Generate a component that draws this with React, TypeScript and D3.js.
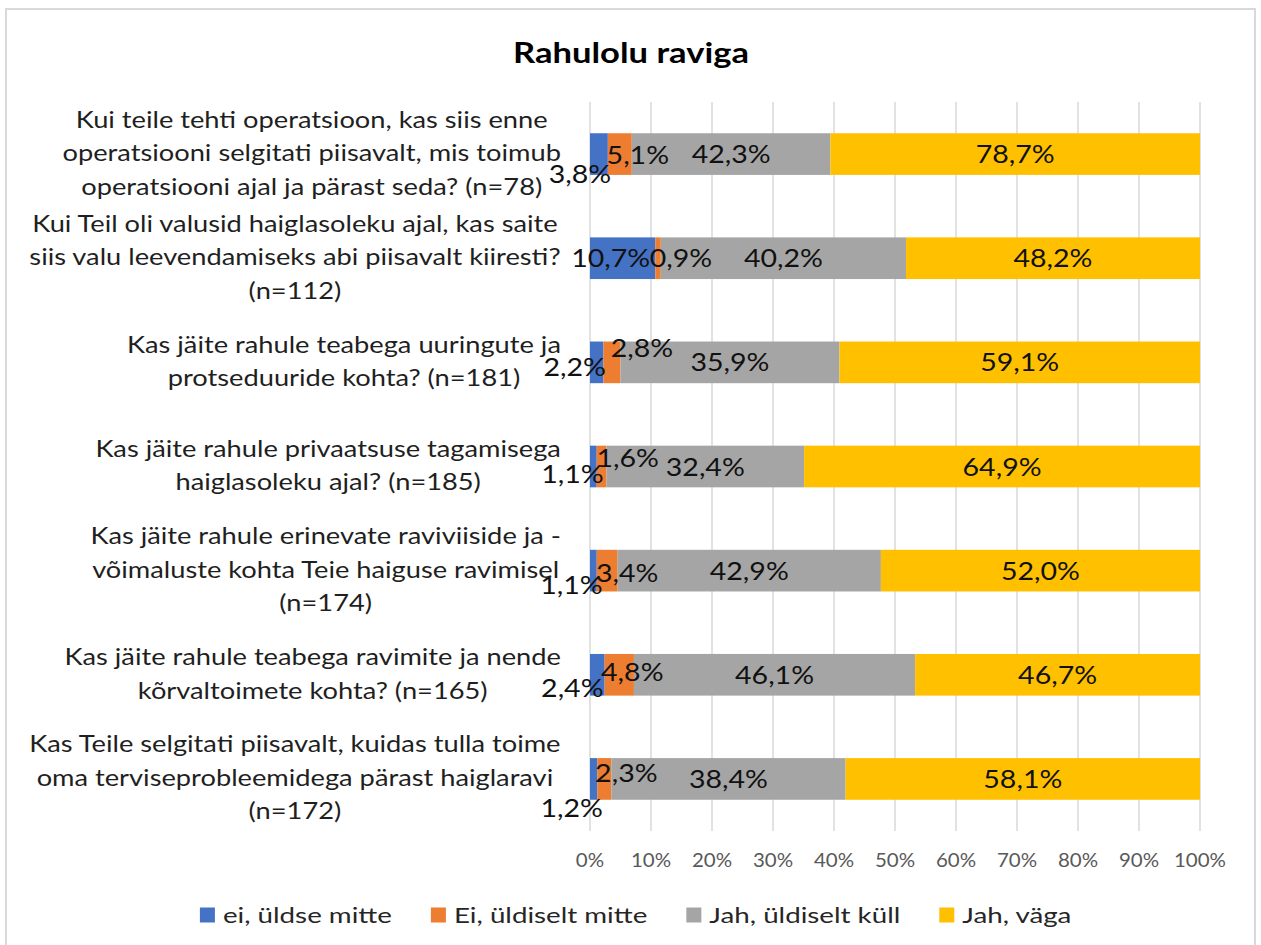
import React from 'react';
import * as d3 from 'd3';

// ---------------- data ----------------
const title = 'Rahulolu raviga';

const categoryLines: string[][] = [
  ['Kui teile tehti operatsioon, kas siis enne', 'operatsiooni selgitati piisavalt, mis toimub', 'operatsiooni ajal ja pärast seda? (n=78)'],
  ['Kui Teil oli valusid haiglasoleku ajal, kas saite', 'siis valu leevendamiseks abi piisavalt kiiresti?', '(n=112)'],
  ['Kas jäite rahule teabega uuringute ja', 'protseduuride kohta? (n=181)'],
  ['Kas jäite rahule privaatsuse tagamisega', 'haiglasoleku ajal? (n=185)'],
  ['Kas jäite rahule erinevate raviviiside ja -', 'võimaluste kohta Teie haiguse ravimisel', '(n=174)'],
  ['Kas jäite rahule teabega ravimite ja nende', 'kõrvaltoimete kohta? (n=165)'],
  ['Kas Teile selgitati piisavalt, kuidas tulla toime', 'oma terviseprobleemidega pärast haiglaravi', '(n=172)'],
];

const seriesNames = ['ei, üldse mitte', 'Ei, üldiselt mitte', 'Jah, üldiselt küll', 'Jah, väga'];
const seriesColors = ['#4472C4', '#ED7D31', '#A5A5A5', '#FFC000'];

const eiUldseMitte = [3.8, 10.7, 2.2, 1.1, 1.1, 2.4, 1.2];
const eiUldiseltMitte = [5.1, 0.9, 2.8, 1.6, 3.4, 4.8, 2.3];
const jahUldiseltKull = [42.3, 40.2, 35.9, 32.4, 42.9, 46.1, 38.4];
const jahVaga = [78.7, 48.2, 59.1, 64.9, 52.0, 46.7, 58.1];

const tickValues = [0, 0.1, 0.2, 0.3, 0.4, 0.5, 0.6, 0.7, 0.8, 0.9, 1];

// label nudges (layout only, Excel collision avoidance) [dx, dy] per category for series 0 and 1
const labelNudge: [number, number][][] = [
  [[-19, 20], [18, 1]],
  [[-12, 0], [23, 0]],
  [[-22, 5], [30, -14]],
  [[-21, 7], [26, -9]],
  [[-22, 14], [20, 2]],
  [[-25, 13], [13, -3]],
  [[-22, 29], [22, -6]],
];

// ---------------- layout ----------------
const W = 1261;
const H = 945;
const FONT = 'Lato';
const CAT_SIZE = 22.3;
const DATA_SIZE = 25;
const TICK_SIZE = 18.6;
const LEG_SIZE = 21;
const TITLE_SIZE = 29;

let ctx: CanvasRenderingContext2D | null = null;
function measure(text: string, font: string): number {
  if (!ctx) ctx = document.createElement('canvas').getContext('2d');
  if (!ctx) return text.length * 10;
  ctx.font = font;
  return ctx.measureText(text).width;
}

function clampS(s: number) {
  return Math.max(0.85, Math.min(1.4, s));
}

export default function App() {
  const rows = categoryLines.map((lines, i) => ({
    key: String(i),
    lines,
    values: [eiUldseMitte[i], eiUldiseltMitte[i], jahUldiseltKull[i], jahVaga[i]],
  }));

  const stack = d3
    .stack<any>()
    .keys(['0', '1', '2', '3'])
    .value((d: any, k: string) => d.values[+k])
    .offset(d3.stackOffsetExpand);
  const stacked = stack(rows);

  const x = d3.scaleLinear().domain([0, 1]).range([590, 1200]);
  const y = d3
    .scaleBand<string>()
    .domain(rows.map((r) => r.key))
    .range([102, 831])
    .paddingInner(0.6)
    .paddingOuter(0.3);

  // horizontal stretch calibration (reference text is wider than Lato)
  const sxCat = clampS(472 / measure(categoryLines[0][0], `${CAT_SIZE}px ${FONT}`));
  const sxData = clampS(79 / measure('42,3%', `${DATA_SIZE}px ${FONT}`));
  const sxTick = clampS(52 / measure('100%', `${TICK_SIZE}px ${FONT}`));
  const sxLeg = clampS(169 / measure(seriesNames[0], `${LEG_SIZE}px ${FONT}`));
  const sxTitle = clampS(236 / measure(title, `bold ${TITLE_SIZE}px ${FONT}`));

  const fmt = (v: number) => v.toFixed(1).replace('.', ',') + '%';
  const tickFmt = (v: number) => d3.format('.0%')(v);

  const lineH = 33.5;
  const catRight = 561;

  // legend layout
  const sq = 15;
  const sqGap = 8;
  const itemGap = 39;
  const legWidths = seriesNames.map((n) => measure(n, `${LEG_SIZE}px ${FONT}`) * sxLeg);
  const legTotal = legWidths.reduce((a, w) => a + sq + sqGap + w, 0) + itemGap * (seriesNames.length - 1);
  let legX = 636 - legTotal / 2;
  const legItems = seriesNames.map((n, i) => {
    const item = { name: n, x: legX, color: seriesColors[i] };
    legX += sq + sqGap + legWidths[i] + itemGap;
    return item;
  });
  const legY = 915;

  return (
    <svg
      width={W}
      height={H}
      style={{ position: 'absolute', left: 0, top: 0, background: '#fff' }}
      fontFamily={FONT}
    >
      <rect x={0} y={0} width={W} height={H} fill="#fff" />
      <rect x={6} y={9} width={1249} height={H} fill="#fff" stroke="#d9d9d9" strokeWidth={2} />

      {/* title */}
      <text
        transform={`translate(631,63) scale(${sxTitle},1)`}
        textAnchor="middle"
        fontSize={TITLE_SIZE}
        fontWeight="bold"
        fill="#000"
      >
        {title}
      </text>

      {/* gridlines */}
      {tickValues.map((t) => (
        <line key={t} x1={x(t)} x2={x(t)} y1={102} y2={831} stroke="#d9d9d9" strokeWidth={1.5} />
      ))}

      {/* tick labels */}
      {tickValues.map((t) => (
        <text
          key={'t' + t}
          transform={`translate(${x(t)},867) scale(${sxTick},1)`}
          textAnchor="middle"
          fontSize={TICK_SIZE}
          fill="#595959"
        >
          {tickFmt(t)}
        </text>
      ))}

      {/* bars */}
      {stacked.map((s, si) => (
        <g key={'s' + si} fill={seriesColors[si]}>
          {s.map((d: any, ci: number) => (
            <rect
              key={ci}
              x={x(d[0])}
              y={y(String(ci))}
              width={Math.max(0, x(d[1]) - x(d[0]))}
              height={y.bandwidth()}
            />
          ))}
        </g>
      ))}

      {/* data labels */}
      {stacked.map((s, si) =>
        s.map((d: any, ci: number) => {
          const nudge = si < 2 ? labelNudge[ci][si] : [0, 0];
          const cx = (x(d[0]) + x(d[1])) / 2 + nudge[0];
          const cy = (y(String(ci)) as number) + y.bandwidth() / 2 + nudge[1];
          return (
            <text
              key={`l${si}-${ci}`}
              transform={`translate(${cx},${cy + 9}) scale(${sxData},1)`}
              textAnchor="middle"
              fontSize={DATA_SIZE}
              fill="#111"
            >
              {fmt(rows[ci].values[si])}
            </text>
          );
        })
      )}

      {/* category labels */}
      {rows.map((r, ci) => {
        const cy = (y(r.key) as number) + y.bandwidth() / 2;
        const maxW = Math.max(...r.lines.map((l) => measure(l, `${CAT_SIZE}px ${FONT}`) * sxCat));
        const cx = catRight - maxW / 2;
        const n = r.lines.length;
        return r.lines.map((l, li) => (
          <text
            key={`c${ci}-${li}`}
            transform={`translate(${cx},${cy + (li - (n - 1) / 2) * lineH + 7}) scale(${sxCat},1)`}
            textAnchor="middle"
            fontSize={CAT_SIZE}
            fill="#1f1f1f"
          >
            {l}
          </text>
        ));
      })}

      {/* legend */}
      {legItems.map((it) => (
        <g key={it.name}>
          <rect x={it.x} y={legY - sq / 2} width={sq} height={sq} fill={it.color} />
          <text
            transform={`translate(${it.x + sq + sqGap},${legY + 7.5}) scale(${sxLeg},1)`}
            fontSize={LEG_SIZE}
            fill="#262626"
          >
            {it.name}
          </text>
        </g>
      ))}
    </svg>
  );
}
